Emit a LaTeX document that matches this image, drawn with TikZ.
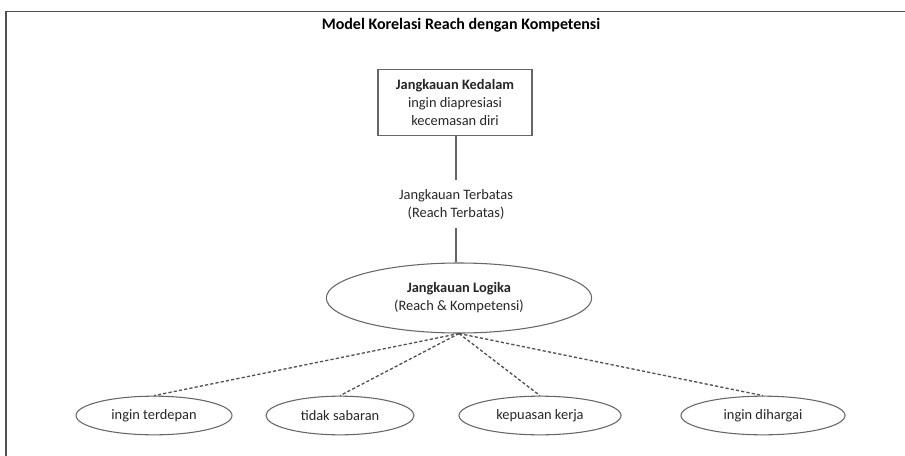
\documentclass[tikz,border=0pt]{standalone}
\usepackage{fontspec}
\setmainfont{Carlito}
\usetikzlibrary{positioning, shapes.geometric}
\definecolor{frameGray}{HTML}{505050}
\definecolor{lineGray}{HTML}{666666}
\definecolor{textDark}{HTML}{262626}

\begin{document}
\begin{tikzpicture}[
        x=0.75pt, y=-0.75pt,
        every node/.style={font=\fontsize{10.8}{13.5}\selectfont, text=textDark},
        box/.style={rectangle, draw=lineGray, line width=0.8pt, fill=white,
          minimum width=115.5pt, minimum height=50pt, inner sep=0pt,
          align=center},
        bigoval/.style={ellipse, draw=lineGray, line width=0.8pt,
          minimum width=199pt, minimum height=52.5pt, inner sep=0pt,
          align=center},
        oval/.style={ellipse, draw=lineGray, line width=0.8pt,
          minimum width=118pt, minimum height=29pt, inner sep=0pt},
        link/.style={draw=lineGray, line width=0.8pt},
        dashlink/.style={draw=lineGray!80!black, line width=1pt, dash pattern=on 2.4pt off 1.6pt}
      ]
        \useasboundingbox (0,0) rectangle (905,456);
        \draw[frameGray, line width=1.4pt] (6,456) -- (6,11.5) -- (905,11.5);

        \node[font=\fontsize{12}{14}\selectfont\bfseries, text=black] (title) at (461,25)
          {Model Korelasi Reach dengan Kompetensi};

        \node[box] (kedalam) at (455,102.5)
          {\textbf{Jangkauan Kedalam}\\ingin diapresiasi\\kecemasan diri};
        \node[align=center, inner sep=0pt, outer sep=7pt] (terbatas) at (456,204)
          {Jangkauan Terbatas\\(Reach Terbatas)};
        \node[bigoval] (logika) at (459,298)
          {\textbf{Jangkauan Logika}\\(Reach \& Kompetensi)};

        \node[oval, minimum width=117pt] (o1) at (154,415.5) {ingin terdepan};
        \node[oval, minimum width=111pt] (o2) at (340,415.5) {tidak sabaran};
        \node[oval, minimum width=121.5pt] (o3) at (540,415.5) {kepuasan kerja};
        \node[oval, minimum width=123pt] (o4) at (763,415.5) {ingin dihargai};

        \draw[link] (kedalam.south -| terbatas) -- (terbatas.north);
        \draw[link] (terbatas.south) -- (terbatas.south |- logika.north);

        \foreach \o in {o1, o2, o3, o4}
          \draw[dashlink] (logika.south) -- (\o.north);
      \end{tikzpicture}
\end{document}
